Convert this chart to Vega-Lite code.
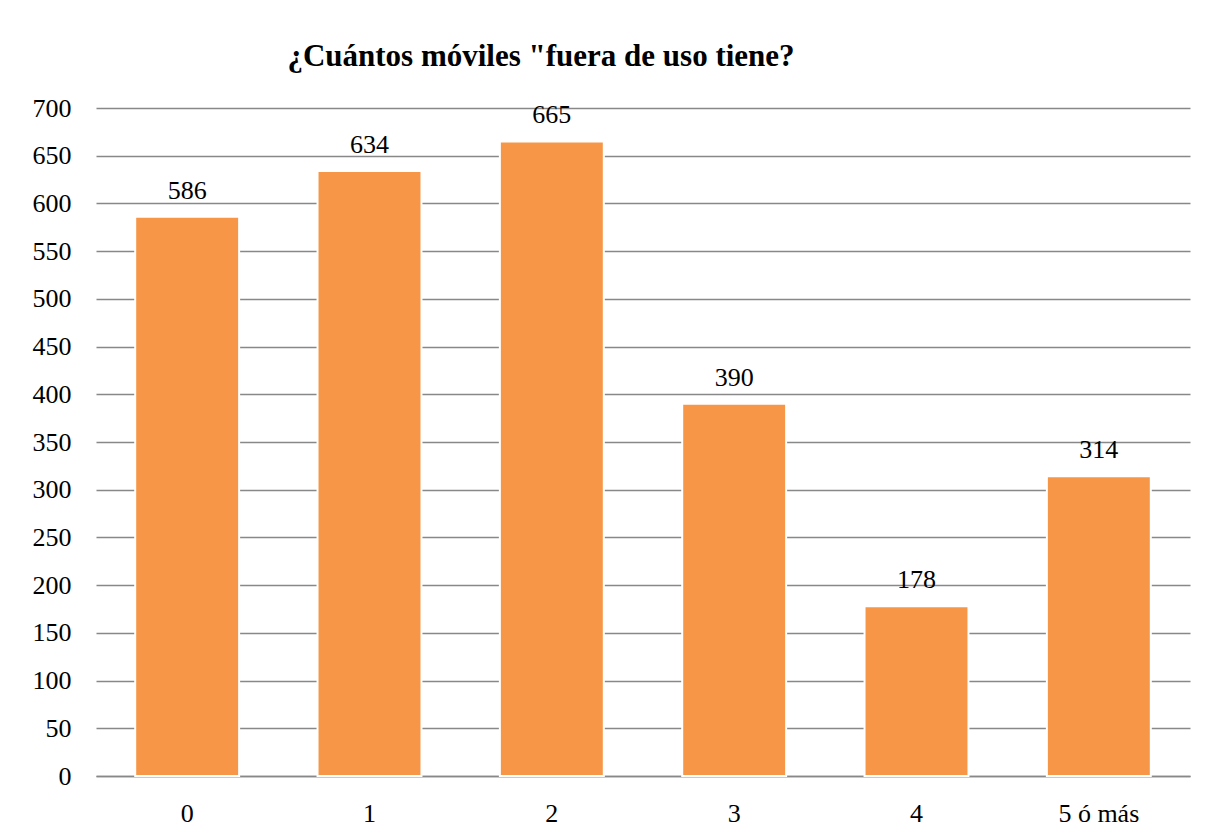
{
  "$schema": "https://vega.github.io/schema/vega-lite/v6.json",
  "width": 1094,
  "height": 668,
  "autosize": {"type": "none"},
  "padding": {"left": 96, "top": 108, "right": 20, "bottom": 63},
  "background": "white",
  "title": {
    "text": "¿Cuántos móviles \"fuera de uso tiene?",
    "font": "Liberation Serif",
    "fontSize": 31,
    "fontWeight": "bold",
    "color": "#000000",
    "anchor": "middle",
    "frame": "group",
    "dx": -102,
    "offset": -2,
    "baseline": "alphabetic"
  },
  "data": {
    "values": [
      {"cat": "0", "value": 586},
      {"cat": "1", "value": 634},
      {"cat": "2", "value": 665},
      {"cat": "3", "value": 390},
      {"cat": "4", "value": 178},
      {"cat": "5 ó más", "value": 314}
    ]
  },
  "encoding": {
    "x": {
      "field": "cat",
      "type": "nominal",
      "sort": null,
      "scale": {"paddingInner": 0.43, "paddingOuter": 0.215},
      "axis": {
        "title": null,
        "labelAngle": 0,
        "ticks": false,
        "domainColor": "#888888",
        "domainWidth": 1.5,
        "labelPadding": 24,
        "labelFont": "Liberation Serif",
        "labelFontSize": 26,
        "labelColor": "#000000"
      }
    },
    "y": {
      "field": "value",
      "type": "quantitative",
      "scale": {"domain": [0, 700], "nice": false},
      "axis": {
        "title": null,
        "values": [0, 50, 100, 150, 200, 250, 300, 350, 400, 450, 500, 550, 600, 650, 700],
        "domain": false,
        "ticks": false,
        "grid": true,
        "gridColor": "#888888",
        "gridWidth": 1.5,
        "labelPadding": 25,
        "labelFont": "Liberation Serif",
        "labelFontSize": 26,
        "labelColor": "#000000"
      }
    }
  },
  "layer": [
    {
      "mark": {"type": "bar", "color": "#F79646", "stroke": "white", "strokeWidth": 2}
    },
    {
      "mark": {
        "type": "text",
        "baseline": "alphabetic",
        "dy": -18,
        "font": "Liberation Serif",
        "fontSize": 26,
        "color": "#000000"
      },
      "encoding": {"text": {"field": "value", "type": "quantitative"}}
    }
  ],
  "config": {"view": {"stroke": null}}
}
